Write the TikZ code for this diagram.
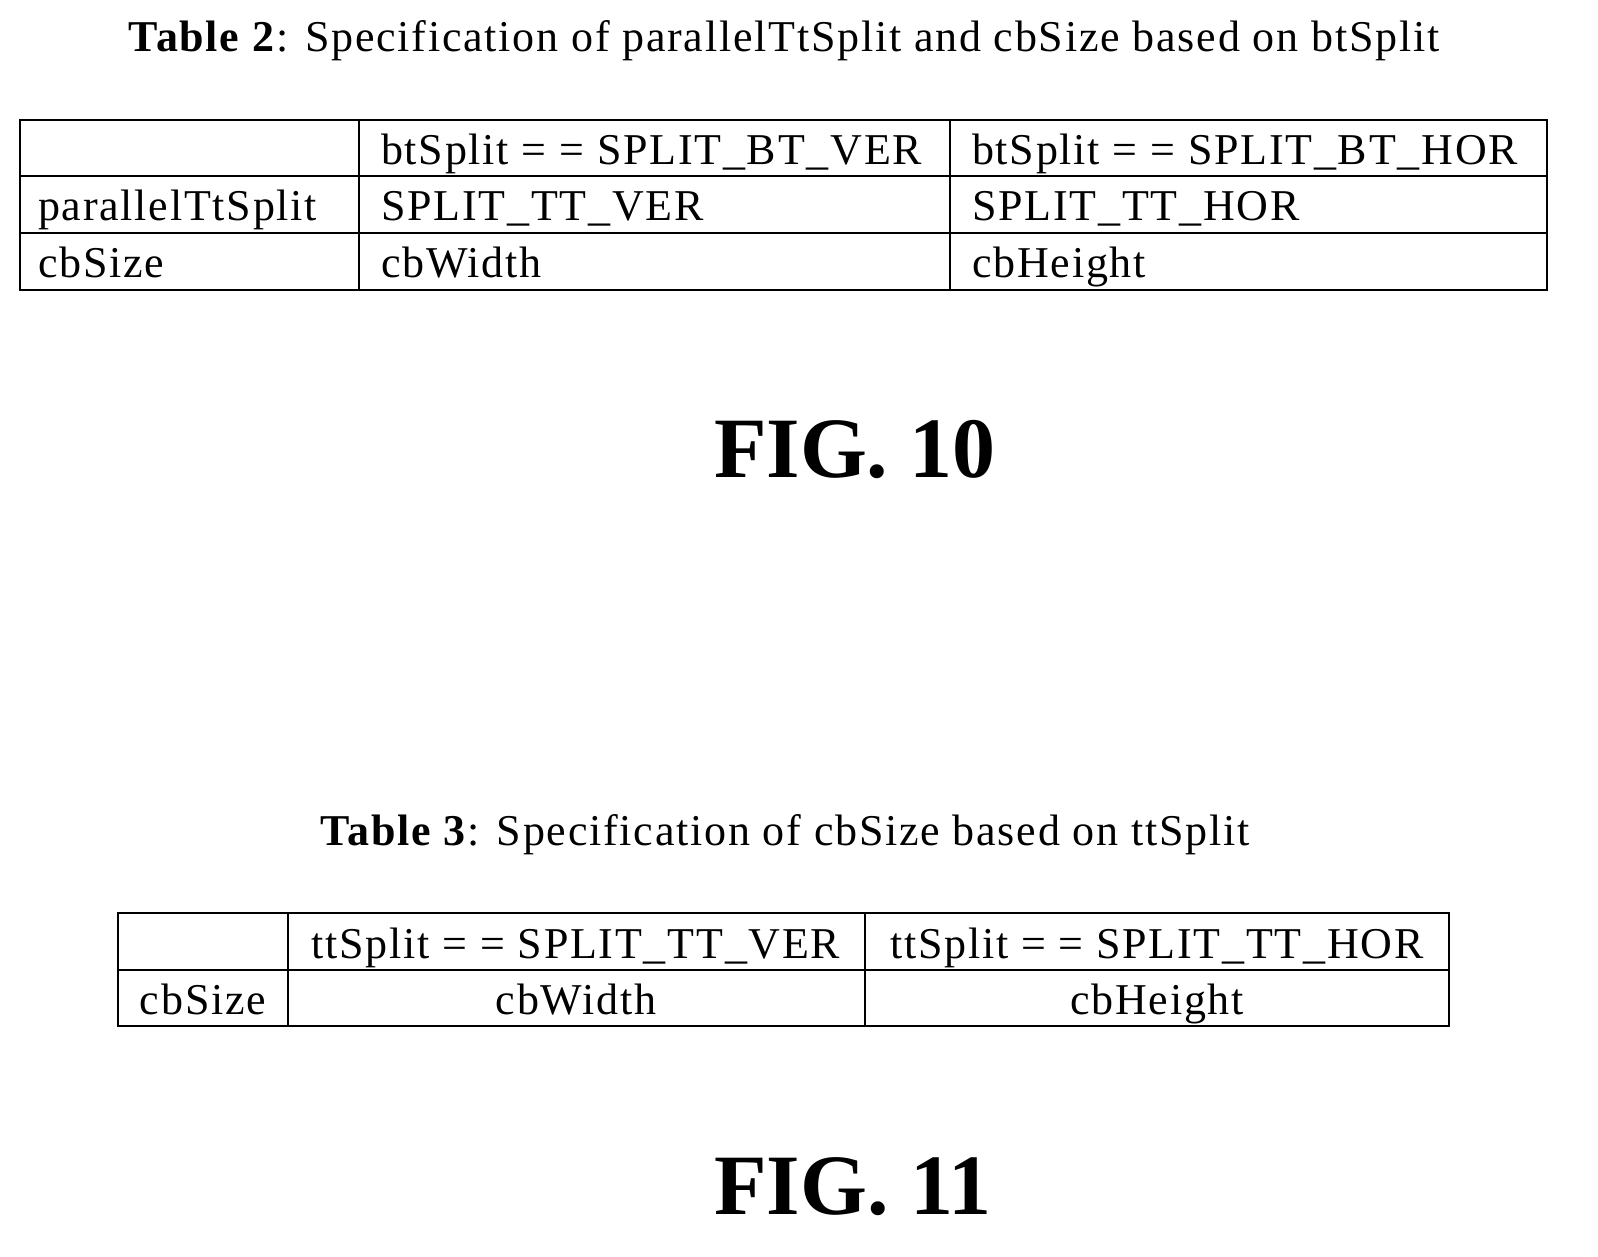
\documentclass[tikz,border=0pt]{standalone}
\usepackage{fontspec}
\setmainfont{Liberation Serif}
\begin{document}
\begin{tikzpicture}[x=1pt,y=-1pt,
  cell/.style={anchor=base west,font=\fontsize{44}{48}\selectfont\addfontfeature{LetterSpace=4},inner sep=0},
  ccell/.style={anchor=base,font=\fontsize{44}{48}\selectfont\addfontfeature{LetterSpace=4},inner sep=0},
  grid/.style={line width=1.8pt},
  fig/.style={font=\fontsize{86}{90}\selectfont\bfseries,inner sep=0}]
\pgfresetboundingbox
\useasboundingbox (0,0) rectangle (1598,1257);
% Table 2
\node[ccell] (t2) at (784,52) {\textbf{Table 2}: Specification of parallelTtSplit and cbSize based on btSplit};
\draw[grid] (20,120) rectangle (1547,290);
\draw[grid] (20,176) -- (1547,176) (20,233) -- (1547,233) (359,120) -- (359,290) (950,120) -- (950,290);
\node[cell] (a1) at (381,165) {btSplit = = SPLIT\_BT\_VER};
\node[cell] (a2) at (972,165) {btSplit = = SPLIT\_BT\_HOR};
\node[cell] (b0) at (38,221) {parallelTtSplit};
\node[cell] (b1) at (381,221) {SPLIT\_TT\_VER};
\node[cell] (b2) at (972,221) {SPLIT\_TT\_HOR};
\node[cell] (c0) at (38,278) {cbSize};
\node[cell] (c1) at (381,278) {cbWidth};
\node[cell] (c2) at (972,278) {cbHeight};
\node[fig] (f10) at (855,450) {FIG. 10};
% Table 3
\node[ccell] (t3) at (785,845) {\textbf{Table 3}: Specification of cbSize based on ttSplit};
\draw[grid] (118,913) rectangle (1449,1026);
\draw[grid] (118,970) -- (1449,970) (288,913) -- (288,1026) (865,913) -- (865,1026);
\node[ccell] (d1) at (576,958) {ttSplit = = SPLIT\_TT\_VER};
\node[ccell] (d2) at (1157,958) {ttSplit = = SPLIT\_TT\_HOR};
\node[ccell] (e0) at (203,1014) {cbSize};
\node[ccell] (e1) at (576,1014) {cbWidth};
\node[ccell] (e2) at (1157,1014) {cbHeight};
\node[fig] (f11) at (853,1187) {FIG. 11};
\end{tikzpicture}
\end{document}
